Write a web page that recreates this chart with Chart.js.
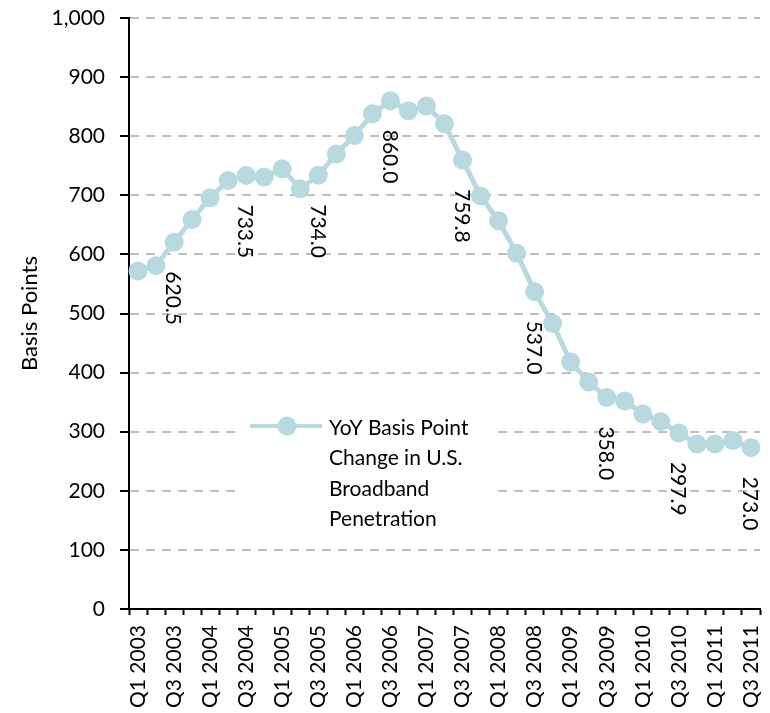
<!DOCTYPE html>
<html>
<head>
<meta charset="utf-8">
<script src="https://cdn.jsdelivr.net/npm/chart.js@4"></script>
<style>
  html, body { margin: 0; padding: 0; background: #fff; }
  #wrap { width: 770px; height: 713px; }
</style>
</head>
<body>
<div id="wrap"><canvas id="bbChart" width="770" height="713"></canvas></div>
<script>
const quarters = [
    "Q1 2003", "Q2 2003", "Q3 2003", "Q4 2003",
    "Q1 2004", "Q2 2004", "Q3 2004", "Q4 2004",
    "Q1 2005", "Q2 2005", "Q3 2005", "Q4 2005",
    "Q1 2006", "Q2 2006", "Q3 2006", "Q4 2006",
    "Q1 2007", "Q2 2007", "Q3 2007", "Q4 2007",
    "Q1 2008", "Q2 2008", "Q3 2008", "Q4 2008",
    "Q1 2009", "Q2 2009", "Q3 2009", "Q4 2009",
    "Q1 2010", "Q2 2010", "Q3 2010", "Q4 2010",
    "Q1 2011", "Q2 2011", "Q3 2011",
];

const basisPoints = [
    572, 581, 620.5, 659,
    696, 725, 733.5, 731,
    745, 711, 734.0, 770,
    801, 838, 860.0, 843,
    851, 821, 759.8, 699,
    657, 602, 537.0, 483,
    418, 384, 358.0, 352,
    330, 317, 297.9, 279,
    279, 285, 273.0,
];

// quarters that carry a value label (every Q3)
const labelledQuarters = [
    "Q3 2003", "Q3 2004", "Q3 2005", "Q3 2006", "Q3 2007",
    "Q3 2008", "Q3 2009", "Q3 2010", "Q3 2011",
];

const yTicks = [0, 100, 200, 300, 400, 500, 600, 700, 800, 900, 1000];

const seriesName = "YoY Basis Point Change in U.S. Broadband Penetration";
const legendLines = ["YoY Basis Point", "Change in U.S.", "Broadband", "Penetration"];

const lineColor = "#b8d9e0";
const fontFamily = "Lato, 'Open Sans', sans-serif";

const valueLabelPlugin = {
    id: "valueLabels",
    afterDatasetsDraw: (chart) => {
        const { ctx } = chart;
        const meta = chart.getDatasetMeta(0);
        ctx.save();
        ctx.font = "21px " + fontFamily;
        ctx.fillStyle = "#000";
        ctx.textAlign = "left";
        ctx.textBaseline = "middle";
        quarters.forEach((q, i) => {
            if (!labelledQuarters.includes(q)) return;
            const pt = meta.data[i];
            ctx.save();
            ctx.translate(pt.x - 1, pt.y + 29);
            ctx.rotate(Math.PI / 2);
            ctx.fillText(basisPoints[i].toFixed(1), 0, 0);
            ctx.restore();
        });
        ctx.restore();
    },
};

const boxLegendPlugin = {
    id: "boxLegend",
    beforeDatasetsDraw: (chart) => {
        const { ctx } = chart;
        ctx.save();
        ctx.fillStyle = "#fff";
        ctx.fillRect(236, 407, 256, 128);

        ctx.strokeStyle = lineColor;
        ctx.lineWidth = 4;
        ctx.beginPath();
        ctx.moveTo(250, 426);
        ctx.lineTo(322, 426);
        ctx.stroke();
        ctx.fillStyle = lineColor;
        ctx.beginPath();
        ctx.arc(287, 426, 9.5, 0, Math.PI * 2);
        ctx.fill();

        ctx.fillStyle = "#000";
        ctx.font = "21px " + fontFamily;
        ctx.textAlign = "left";
        ctx.textBaseline = "middle";
        legendLines.forEach((line, i) => {
            ctx.fillText(line, 329, 428 + i * 30.5);
        });
        ctx.restore();
    },
};

const ctx = document.getElementById("bbChart").getContext("2d");
const bbChart = new Chart(ctx, {
    type: "line",
    data: {
        labels: quarters,
        datasets: [
            {
                label: seriesName,
                data: basisPoints,
                borderColor: lineColor,
                backgroundColor: lineColor,
                borderWidth: 5,
                pointRadius: 9.5,
                pointHoverRadius: 9.5,
                pointBorderWidth: 0,
                pointBackgroundColor: lineColor,
                tension: 0,
            },
        ],
    },
    options: {
        responsive: false,
        animation: false,
        layout: {
            padding: { left: 12, right: 10, top: 18, bottom: 4 },
        },
        scales: {
            x: {
                offset: true,
                grid: {
                    offset: true,
                    drawOnChartArea: false,
                    drawTicks: true,
                    tickLength: 6,
                    tickColor: "#000",
                    tickWidth: 2,
                },
                border: { color: "#000", width: 2 },
                ticks: {
                    autoSkip: false,
                    maxRotation: 90,
                    minRotation: 90,
                    padding: 10,
                    color: "#000",
                    font: { family: fontFamily, size: 21 },
                    callback: (value, index) => (index % 2 === 0 ? quarters[index] : ""),
                },
                afterFit: (scale) => {
                    scale.height = 713 - 609 - 4;
                    scale.paddingLeft = 0;
                    scale.paddingRight = 0;
                },
            },
            y: {
                min: 0,
                max: 1000,
                afterBuildTicks: (scale) => {
                    scale.ticks = yTicks.map((v) => ({ value: v }));
                },
                grid: {
                    color: "#bfbfbf",
                    lineWidth: 2,
                    tickLength: 9,
                    tickColor: "#000",
                    tickWidth: 2,
                    tickBorderDash: [],
                },
                border: { color: "#000", width: 2, dash: [9, 7] },
                ticks: {
                    padding: 15,
                    color: "#000",
                    font: { family: fontFamily, size: 21 },
                    callback: (value) => value.toLocaleString("en-US"),
                },
                title: {
                    display: true,
                    text: "Basis Points",
                    color: "#000",
                    font: { family: fontFamily, size: 22 },
                    padding: { top: 5, bottom: 0 },
                },
                afterFit: (scale) => {
                    scale.width = 129 - 12;
                    scale.paddingTop = 0;
                    scale.paddingBottom = 0;
                },
            },
        },
        plugins: {
            legend: { display: false },
            tooltip: { enabled: false },
        },
    },
    plugins: [boxLegendPlugin, valueLabelPlugin],
});
</script>
</body>
</html>
